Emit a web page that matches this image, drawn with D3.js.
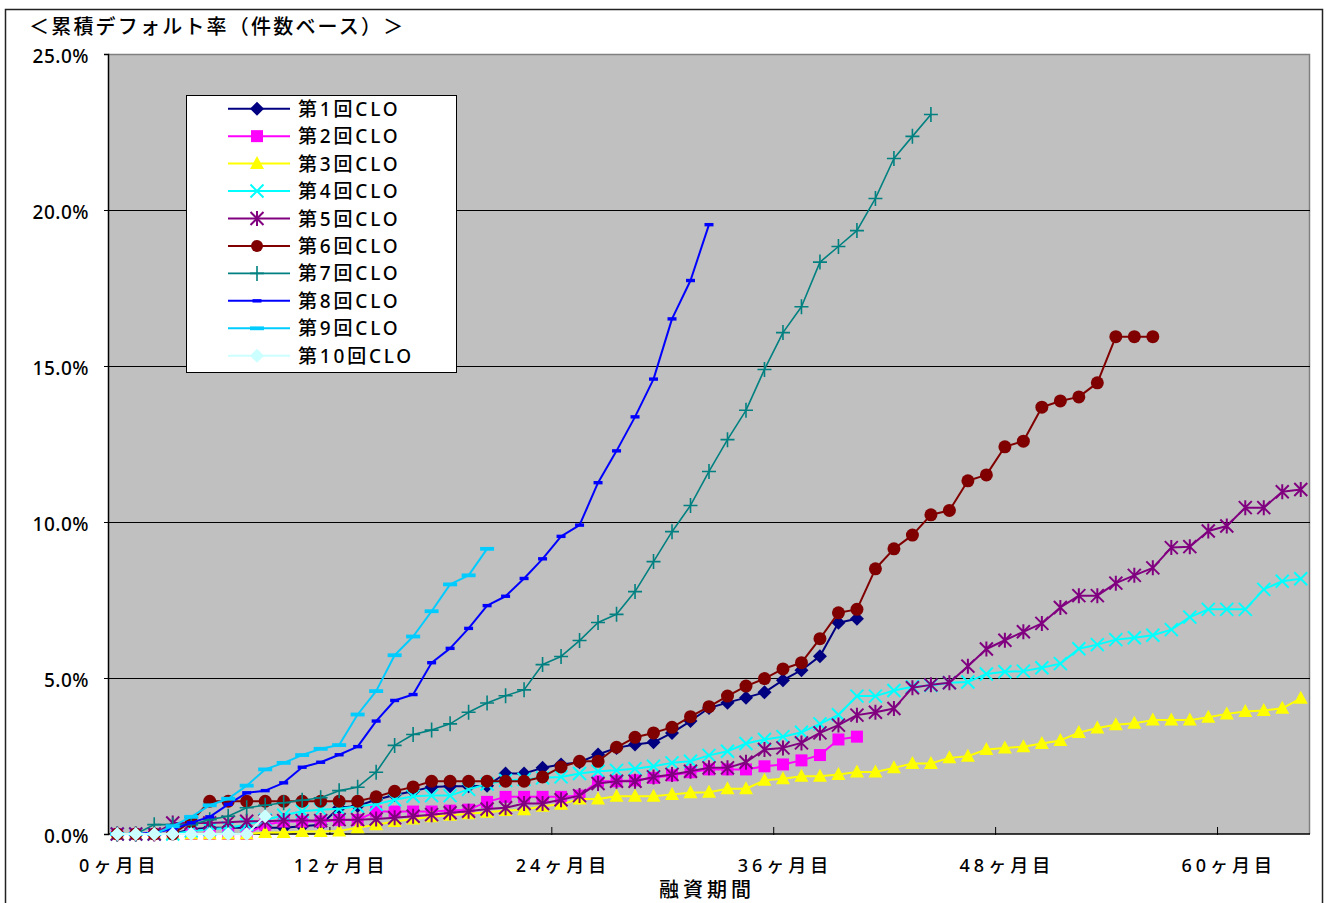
<!DOCTYPE html>
<html><head><meta charset="utf-8">
<script src="https://cdn.jsdelivr.net/npm/d3@7"></script>
<style>
html,body{margin:0;padding:0;background:#fff;}
svg{display:block;}
text{font-family:"Noto Sans","Noto Sans CJK JP",sans-serif;fill:#000;}
</style></head>
<body>
<svg id="c" width="1326" height="903"></svg>
<script>
// ---- data (cumulative default rate, %, by month since funding) ----
const months = d3.range(0, 65);
const xTickMonths = [0, 12, 24, 36, 48, 60];
const xTickLabels = ["0ヶ月目", "12ヶ月目", "24ヶ月目", "36ヶ月目", "48ヶ月目", "60ヶ月目"];
const yTicks = [0, 5, 10, 15, 20, 25];
const seriesNames = ["第1回CLO","第2回CLO","第3回CLO","第4回CLO","第5回CLO","第6回CLO","第7回CLO","第8回CLO","第9回CLO","第10回CLO"];

const clo1 = [0,0,0,0,0.15,0.2,0.2,0.2,0.2,0.2,0.25,0.3,0.84,0.9,1.1,1.25,1.37,1.51,1.53,1.53,1.55,1.94,1.94,2.12,2.23,2.3,2.55,2.76,2.87,2.94,3.24,3.62,4.04,4.21,4.37,4.54,4.93,5.25,5.7,6.77,6.9];
const clo2 = [0,0,0,0,0,0,0,0,0.3,0.4,0.4,0.4,0.45,0.45,0.72,0.72,0.72,0.72,0.75,0.78,1.03,1.19,1.19,1.19,1.19,1.23,1.69,1.69,1.72,1.8,1.88,1.98,2.07,2.07,2.07,2.17,2.23,2.36,2.53,3.03,3.12];
const clo3 = [0,0,0,0,0,0,0,0,0.05,0.05,0.08,0.08,0.1,0.2,0.3,0.4,0.48,0.55,0.6,0.65,0.7,0.75,0.78,0.89,0.95,1.12,1.12,1.21,1.21,1.21,1.27,1.32,1.34,1.45,1.45,1.72,1.77,1.85,1.85,1.91,1.99,1.99,2.12,2.26,2.26,2.44,2.49,2.71,2.76,2.8,2.9,3.0,3.25,3.4,3.5,3.55,3.65,3.65,3.65,3.74,3.85,3.93,3.96,4.03,4.35];
const clo4 = [0,0,0,0,0.1,0.15,0.2,0.3,0.45,0.6,0.73,0.78,0.81,0.89,0.95,1.1,1.21,1.23,1.23,1.43,1.6,1.72,1.75,1.8,1.83,1.94,2.01,2.04,2.09,2.17,2.28,2.33,2.52,2.65,2.9,3.03,3.12,3.26,3.53,3.82,4.42,4.42,4.6,4.72,4.76,4.85,4.87,5.13,5.2,5.22,5.33,5.46,5.94,6.07,6.23,6.29,6.37,6.55,6.95,7.2,7.2,7.2,7.84,8.1,8.18];
const clo5 = [0,0,0,0.35,0.35,0.35,0.38,0.41,0.41,0.43,0.43,0.43,0.46,0.46,0.48,0.52,0.57,0.62,0.68,0.73,0.8,0.84,0.98,0.98,1.1,1.23,1.62,1.69,1.69,1.83,1.91,2.01,2.12,2.12,2.3,2.71,2.76,2.92,3.24,3.49,3.81,3.9,4.02,4.69,4.78,4.85,5.38,5.93,6.21,6.48,6.75,7.26,7.64,7.64,8.04,8.29,8.53,9.18,9.21,9.71,9.87,10.46,10.46,10.97,11.04];
const clo6 = [0,0,0,0,0.4,1.05,1.05,1.05,1.05,1.05,1.05,1.05,1.05,1.05,1.19,1.37,1.51,1.69,1.69,1.69,1.69,1.69,1.69,1.83,2.15,2.33,2.33,2.78,3.1,3.24,3.42,3.76,4.08,4.42,4.74,4.98,5.29,5.49,6.26,7.09,7.2,8.5,9.14,9.58,10.23,10.37,11.32,11.51,12.41,12.59,13.68,13.88,14.01,14.46,15.94,15.94,15.94];
const clo7 = [0,0,0.3,0.3,0.3,0.46,0.57,0.84,0.92,1.0,1.08,1.16,1.39,1.5,1.98,2.84,3.19,3.33,3.53,3.9,4.2,4.43,4.62,5.43,5.69,6.2,6.78,7.04,7.77,8.73,9.69,10.53,11.62,12.64,13.58,14.89,16.07,16.9,18.33,18.83,19.34,20.37,21.65,22.36,23.06];
const clo8 = [0,0,0.05,0.15,0.36,0.55,0.95,1.32,1.39,1.64,2.14,2.3,2.54,2.8,3.62,4.28,4.47,5.49,5.95,6.59,7.32,7.62,8.19,8.82,9.54,9.9,11.26,12.28,13.37,14.58,16.51,17.74,19.53];
const clo9 = [0,0,0,0.25,0.55,0.92,1.13,1.55,2.07,2.28,2.53,2.73,2.85,3.83,4.58,5.73,6.33,7.14,8.0,8.29,9.14];
const clo10 = [0,0,0,0,0,0,0,0,0.57];

const seriesValues = [clo1, clo2, clo3, clo4, clo5, clo6, clo7, clo8, clo9, clo10];
const seriesColors = ["#000080","#FF00FF","#FFFF00","#00FFFF","#800080","#800000","#008080","#0000FF","#00CCFF","#CCFFFF"];
const seriesMarkers = ["diamond","square","triangle","x","asterisk","circle","plus","dash","wdash","diamond"];

// ---- layout ----
const svg = d3.select("#c");
const plot = {l:108, r:1310, t:54, b:834};

const x = d3.scaleBand().domain(months).range([plot.l, plot.r]).paddingInner(0).paddingOuter(0);
const xc = m => x(m) + x.bandwidth()/2;
const y = d3.scaleLinear().domain([0, 25]).range([plot.b, plot.t]);

// outer chart border
svg.append("path").attr("d", `M5.5,903 V9.5 H1322.5 V903`)
  .attr("fill","none").attr("stroke","#222").attr("stroke-width",1.5);

// title
svg.append("text").attr("x", 29).attr("y", 34)
  .style("font-size","20px").style("letter-spacing","2.2px").style("font-weight","500")
  .text("＜累積デフォルト率（件数ベース）＞");

// plot area
svg.append("rect").attr("x", plot.l).attr("y", plot.t)
  .attr("width", plot.r - plot.l).attr("height", plot.b - plot.t)
  .attr("fill","#C0C0C0");
svg.append("path").attr("d", `M${plot.l},${plot.t+0.5} H${plot.r-0.5} V${plot.b}`)
  .attr("fill","none").attr("stroke","#808080").attr("stroke-width",1.5);

// gridlines
svg.append("g").selectAll("line").data(yTicks.filter(t => t > 0 && t < 25)).join("line")
  .attr("x1", plot.l).attr("x2", plot.r)
  .attr("y1", d => Math.round(y(d)) + 0.5).attr("y2", d => Math.round(y(d)) + 0.5)
  .attr("stroke","#000").attr("stroke-width",1);

// y axis
const yAxis = d3.axisLeft(y).tickValues(yTicks).tickSize(4).tickFormat(d => d.toFixed(1) + "%");
const yg = svg.append("g").attr("transform", `translate(${plot.l},0)`).call(yAxis);
yg.select(".domain").attr("stroke","#000").attr("stroke-width",1.5);
yg.selectAll(".tick line").attr("stroke","#000");
yg.selectAll(".tick text").attr("x", -19).attr("dy", "0.62em").attr("y", -3)
  .style("font-size","19px").style("letter-spacing","0.5px").style("font-weight","500")
  .attr("font-family", null);

// x axis
const xg = svg.append("g").attr("transform", `translate(0,${plot.b})`);
xg.append("line").attr("x1", plot.l).attr("x2", plot.r).attr("y1", 0).attr("y2", 0)
  .attr("stroke","#000").attr("stroke-width",1.5);
xg.selectAll("line.tk").data(xTickMonths.filter(m => m > 0)).join("line").attr("class","tk")
  .attr("x1", m => x(m)).attr("x2", m => x(m)).attr("y1", -7).attr("y2", 1)
  .attr("stroke","#000").attr("stroke-width",1);
xg.selectAll("text").data(xTickMonths).join("text")
  .attr("x", (m,i) => xc(m) + 2).attr("y", 38).attr("text-anchor","middle")
  .style("font-size","18px").style("letter-spacing","4px").style("font-weight","500")
  .text((m,i) => xTickLabels[i]);
svg.append("text").attr("x", 707).attr("y", 897).attr("text-anchor","middle")
  .style("font-size","20px").style("letter-spacing","4px").style("font-weight","500").text("融資期間");

// marker paths
function markerPath(kind) {
  switch (kind) {
    case "diamond": return "M0,-7L7,0L0,7L-7,0Z";
    case "square": return "M-6,-6H6V6H-6Z";
    case "triangle": return "M0,-7.5L7,5.5L-7,5.5Z";
    case "x": return "M-6.5,-6.5L6.5,6.5M-6.5,6.5L6.5,-6.5";
    case "asterisk": return "M-6.5,-6.5L6.5,6.5M-6.5,6.5L6.5,-6.5M0,-7.5V7.5";
    case "plus": return "M-7,0H7M0,-7.5V7.5";
    case "dash": return "M-4.5,-1.7H4.5V1.7H-4.5Z";
    case "wdash": return "M-7,-1.9H7V1.9H-7Z";
  }
  return "";
}
const filled = k => ["diamond","square","triangle","dash","wdash"].includes(k);

// series
const line = d3.line().x((d,i) => xc(i)).y(d => y(d));
seriesValues.forEach((vals, si) => {
  const col = seriesColors[si], mk = seriesMarkers[si];
  const g = svg.append("g");
  g.append("path").attr("d", line(vals)).attr("fill","none")
    .attr("stroke", col).attr("stroke-width", si === 6 ? 1.6 : 2).attr("stroke-linejoin","round");
  if (mk === "circle") {
    g.selectAll("circle").data(vals).join("circle")
      .attr("cx", (d,i) => xc(i)).attr("cy", d => y(d)).attr("r", 6.5).attr("fill", col);
  } else {
    g.selectAll("path.m").data(vals).join("path").attr("class","m")
      .attr("transform", (d,i) => `translate(${xc(i)},${y(d)})`)
      .attr("d", markerPath(mk))
      .attr("fill", filled(mk) ? col : "none")
      .attr("stroke", filled(mk) ? "none" : col)
      .attr("stroke-width", mk === "plus" ? 1.6 : 2);
  }
});

// legend
const lg = svg.append("g");
lg.append("rect").attr("x", 186.5).attr("y", 95.5).attr("width", 270).attr("height", 277)
  .attr("fill","#fff").attr("stroke","#000").attr("stroke-width",1);
seriesNames.forEach((name, i) => {
  const ly = 108.7 + i * 27.45;
  const col = seriesColors[i], mk = seriesMarkers[i];
  lg.append("line").attr("x1", 228).attr("x2", 290).attr("y1", ly).attr("y2", ly)
    .attr("stroke", col).attr("stroke-width", i === 6 ? 1.6 : 2);
  if (mk === "circle") {
    lg.append("circle").attr("cx", 257).attr("cy", ly).attr("r", 6).attr("fill", col);
  } else {
    lg.append("path").attr("transform", `translate(257,${ly})`).attr("d", markerPath(mk))
      .attr("fill", filled(mk) ? col : "none")
      .attr("stroke", filled(mk) ? "none" : col)
      .attr("stroke-width", mk === "plus" ? 1.6 : 2);
  }
  lg.append("text").attr("x", 298).attr("y", ly + 7)
    .style("font-size","19px").style("letter-spacing","2.8px").style("font-weight","500").text(name);
});
</script>
</body></html>
